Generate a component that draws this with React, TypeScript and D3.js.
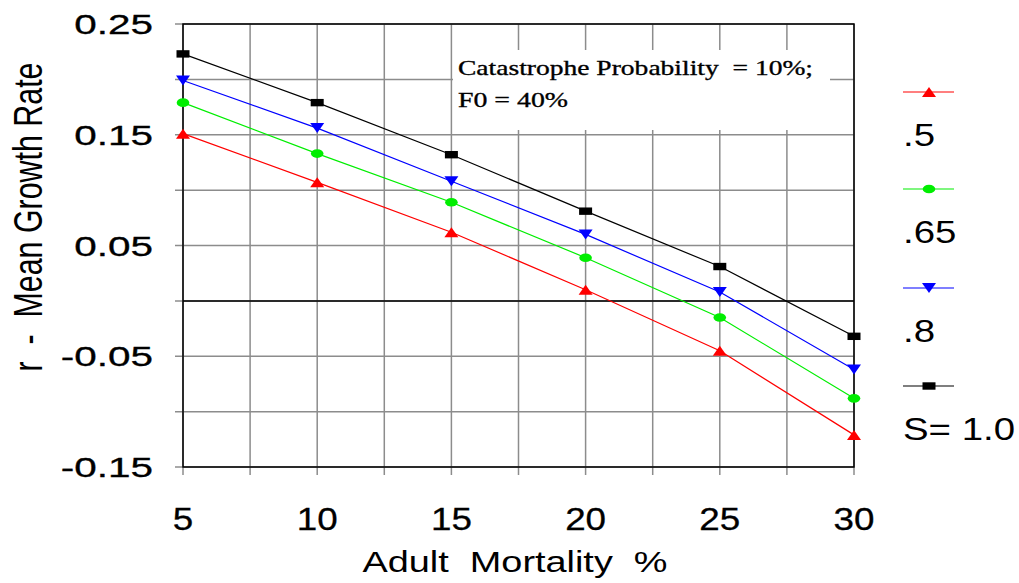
import React from "react";
import * as d3 from "d3";

const mortality = [5, 10, 15, 20, 25, 30];
const s050 = [0.151, 0.107, 0.062, 0.01, -0.045, -0.121];
const s065 = [0.179, 0.133, 0.089, 0.039, -0.015, -0.088];
const s080 = [0.199, 0.156, 0.108, 0.06, 0.008, -0.062];
const s100 = [0.223, 0.179, 0.132, 0.081, 0.031, -0.032];
const seriesLabels = [".5", ".65", ".8", "S= 1.0"];
const seriesColors = ["#ff0000", "#00ee00", "#0000ff", "#000000"];
const seriesMarkers = ["triUp", "circle", "triDown", "square"];
const xTickLabels = ["5", "10", "15", "20", "25", "30"];
const yTickValues = [0.25, 0.15, 0.05, -0.05, -0.15];
const yTickLabels = ["0.25", "0.15", "0.05", "-0.05", "-0.15"];
const xGrid = [5, 7.5, 10, 12.5, 15, 17.5, 20, 22.5, 25, 27.5, 30];
const yGrid = [-0.15, -0.1, -0.05, 0, 0.05, 0.1, 0.15, 0.2, 0.25];
const annotationLines = ["Catastrophe Probability  = 10%;", "F0 = 40%"];
const xTitle = "Adult  Mortality  %";
const yTitle = "r  -  Mean Growth Rate";

const W = 1019;
const H = 583;
const L = 183, R = 854, T = 24, B = 467;

function Marker({ type, cx, cy, color }: { type: string; cx: number; cy: number; color: string }) {
  if (type === "triUp")
    return <path d={`M${cx - 7},${cy + 5}L${cx + 7},${cy + 5}L${cx},${cy - 5}Z`} fill={color} />;
  if (type === "triDown")
    return <path d={`M${cx - 7},${cy - 5}L${cx + 7},${cy - 5}L${cx},${cy + 5}Z`} fill={color} />;
  if (type === "circle") return <ellipse cx={cx} cy={cy} rx={6.3} ry={4.3} fill={color} />;
  return <rect x={cx - 6.5} y={cy - 3.7} width={13} height={7.4} fill={color} />;
}

export default function App() {
  const x = d3.scaleLinear().domain([5, 30]).range([L, R]);
  const y = d3.scaleLinear().domain([-0.15, 0.25]).range([B, T]);
  const series = [s050, s065, s080, s100];
  const line = d3
    .line<number>()
    .x((_, i) => x(mortality[i]))
    .y((d) => y(d));
  const sans = "Arial, 'Liberation Sans', sans-serif";
  const serif = "'Times New Roman', 'Liberation Serif', serif";
  const legendY = [92, 189, 288, 386];
  const legendTextY = [146, 243, 342, 440];
  const pre = { whiteSpace: "pre" as const };
  return (
    <svg
      width={W}
      height={H}
      style={{ position: "absolute", left: 0, top: 0, background: "#fff", display: "block" }}
    >
      <rect x={0} y={0} width={W} height={H} fill="#fff" />
      {xGrid.map((v) => (
        <line key={"gx" + v} x1={x(v)} x2={x(v)} y1={T} y2={B + 8} stroke="#8c8c8c" strokeWidth={1.5} />
      ))}
      {yGrid.map((v) => (
        <line key={"gy" + v} x1={L - 8} x2={R} y1={y(v)} y2={y(v)} stroke="#8c8c8c" strokeWidth={1.5} />
      ))}
      <rect x={453} y={50} width={377} height={80} fill="#fff" />
      <line x1={L} x2={R} y1={y(0)} y2={y(0)} stroke="#000" strokeWidth={1.5} />
      <rect x={L} y={T} width={R - L} height={B - T} fill="none" stroke="#000" strokeWidth={1.5} />
      {series.map((s, si) => (
        <g key={"s" + si}>
          <path d={line(s) || ""} fill="none" stroke={seriesColors[si]} strokeWidth={1.2} />
          {s.map((v, i) => (
            <Marker key={i} type={seriesMarkers[si]} cx={x(mortality[i])} cy={y(v)} color={seriesColors[si]} />
          ))}
        </g>
      ))}
      <text x={458} y={75} fontFamily={serif} fontSize={22} textLength={355} lengthAdjust="spacingAndGlyphs" stroke="#000" strokeWidth={0.35} style={pre}>
        {annotationLines[0]}
      </text>
      <text x={458} y={107} fontFamily={serif} fontSize={22} textLength={110} lengthAdjust="spacingAndGlyphs" stroke="#000" strokeWidth={0.35} style={pre}>
        {annotationLines[1]}
      </text>
      {yTickValues.map((v, i) => (
        <text
          key={"yt" + i}
          transform={`translate(153,${y(v) + 10}) scale(1.5,1)`}
          textAnchor="end"
          fontFamily={sans}
          fontSize={27}
          stroke="#000"
          strokeWidth={0.3}
        >
          {yTickLabels[i]}
        </text>
      ))}
      {mortality.map((v, i) => (
        <text
          key={"xt" + i}
          transform={`translate(${x(v)},530) scale(1.15,1)`}
          textAnchor="middle"
          fontFamily={sans}
          fontSize={32}
          stroke="#000"
          strokeWidth={0.3}
        >
          {xTickLabels[i]}
        </text>
      ))}
      <text x={515} y={572} textAnchor="middle" fontFamily={sans} fontSize={30} textLength={305} lengthAdjust="spacingAndGlyphs" style={pre}>
        {xTitle}
      </text>
      <text
        transform="translate(42,217) scale(1.3,1) rotate(-90)"
        textAnchor="middle"
        fontFamily={sans}
        fontSize={31}
        textLength={309}
        lengthAdjust="spacingAndGlyphs"
        style={pre}
      >
        {yTitle}
      </text>
      {seriesLabels.map((lab, i) => (
        <g key={"lg" + i}>
          <line x1={903} x2={954} y1={legendY[i]} y2={legendY[i]} stroke={seriesColors[i]} strokeWidth={1.2} />
          <Marker type={seriesMarkers[i]} cx={929} cy={legendY[i]} color={seriesColors[i]} />
          <text transform={`translate(903,${legendTextY[i]}) scale(1.2,1)`} fontFamily={sans} fontSize={32} style={pre}>
            {lab}
          </text>
        </g>
      ))}
    </svg>
  );
}
